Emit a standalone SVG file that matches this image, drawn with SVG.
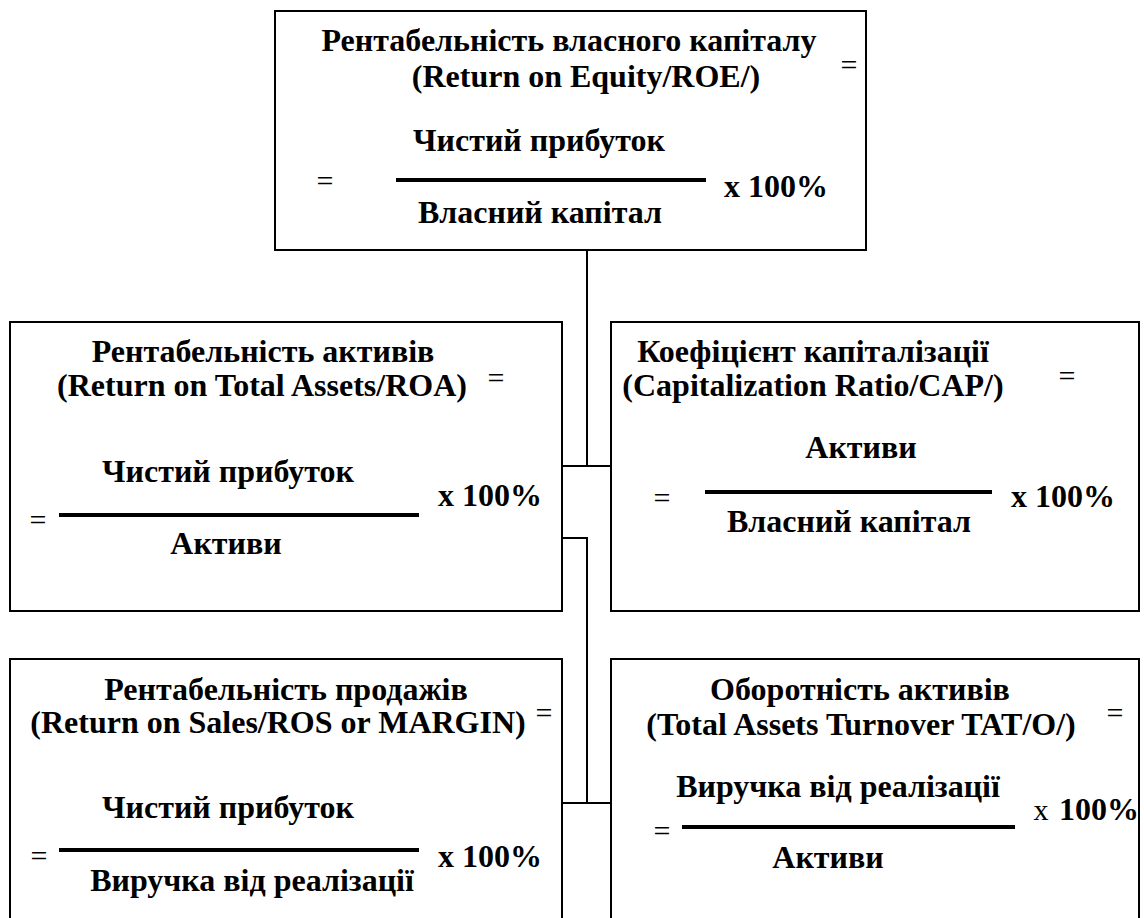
<svg xmlns="http://www.w3.org/2000/svg" width="1144" height="918" viewBox="0 0 1144 918" font-family="'Liberation Serif', 'Times New Roman', serif">
<style>
.box{fill:#fff;stroke:#000;stroke-width:2}
.t{font-family:'Liberation Serif','Times New Roman',serif;font-weight:bold;font-size:32px;fill:#000}
.c{text-anchor:middle}
.eq{font-family:'Liberation Serif','Times New Roman',serif;font-weight:normal;font-size:30px;fill:#000;text-anchor:middle}
.frac{stroke:#000;stroke-width:4}
.conn{fill:none;stroke:#000;stroke-width:2}
</style>
<rect width="1144" height="918" fill="#fff"/>
<g id="connectors">
<polyline class="conn" points="587,250 587,466"/>
<polyline class="conn" points="562,466 611,466"/>
<polyline class="conn" points="562,538 587,538 587,803"/>
<polyline class="conn" points="562,803 611,803"/>
</g>
<g id="roe">
<rect class="box" x="275" y="11" width="591" height="239"/>
<text class="t c" x="569" y="51">Рентабельність власного капіталу</text>
<text class="t c" x="586" y="87">(Return on Equity/ROE/)</text>
<text class="eq" x="849" y="75">=</text>
<text class="t c" x="539" y="151">Чистий прибуток</text>
<text class="eq" x="325" y="191">=</text>
<line class="frac" x1="396" y1="180" x2="706" y2="180"/>
<text class="t" x="724" y="197">x 100%</text>
<text class="t c" x="540" y="223">Власний капітал</text>
</g>
<g id="roa">
<rect class="box" x="10" y="322" width="552" height="289"/>
<text class="t c" x="263" y="362">Рентабельність активів</text>
<text class="t c" x="262" y="396">(Return on Total Assets/ROA)</text>
<text class="eq" x="496" y="388">=</text>
<text class="t c" x="228" y="482">Чистий прибуток</text>
<text class="eq" x="38" y="530">=</text>
<line class="frac" x1="59" y1="515" x2="419" y2="515"/>
<text class="t" x="438" y="506">x 100%</text>
<text class="t c" x="226" y="554">Активи</text>
</g>
<g id="cap">
<rect class="box" x="611" y="322" width="528" height="289"/>
<text class="t c" x="813" y="362">Коефіцієнт капіталізації</text>
<text class="t c" x="813" y="396">(Capitalization Ratio/CAP/)</text>
<text class="eq" x="1067" y="386">=</text>
<text class="t c" x="861" y="458">Активи</text>
<text class="eq" x="662" y="508">=</text>
<line class="frac" x1="705" y1="492" x2="992" y2="492"/>
<text class="t" x="1011" y="507">x 100%</text>
<text class="t c" x="849" y="532">Власний капітал</text>
</g>
<g id="ros">
<rect class="box" x="10" y="659" width="552" height="290"/>
<text class="t c" x="286" y="700">Рентабельність продажів</text>
<text class="t c" x="278" y="733">(Return on Sales/ROS or MARGIN)</text>
<text class="eq" x="544" y="723">=</text>
<text class="t c" x="228" y="818">Чистий прибуток</text>
<text class="eq" x="39" y="866">=</text>
<line class="frac" x1="59" y1="850" x2="419" y2="850"/>
<text class="t" x="438" y="867">x 100%</text>
<text class="t c" x="252" y="891">Виручка від реалізації</text>
</g>
<g id="tato">
<rect class="box" x="611" y="659" width="528" height="290"/>
<text class="t c" x="860" y="700">Оборотність активів</text>
<text class="t c" x="861" y="735">(Total Assets Turnover TAT/O/)</text>
<text class="eq" x="1115" y="723">=</text>
<text class="t c" x="838" y="797">Виручка від реалізації</text>
<text class="eq" x="1041" y="820">x</text>
<text class="t" x="1059" y="820">100%</text>
<text class="eq" x="662" y="841">=</text>
<line class="frac" x1="682" y1="827" x2="1015" y2="827"/>
<text class="t c" x="828" y="868">Активи</text>
</g>
</svg>
